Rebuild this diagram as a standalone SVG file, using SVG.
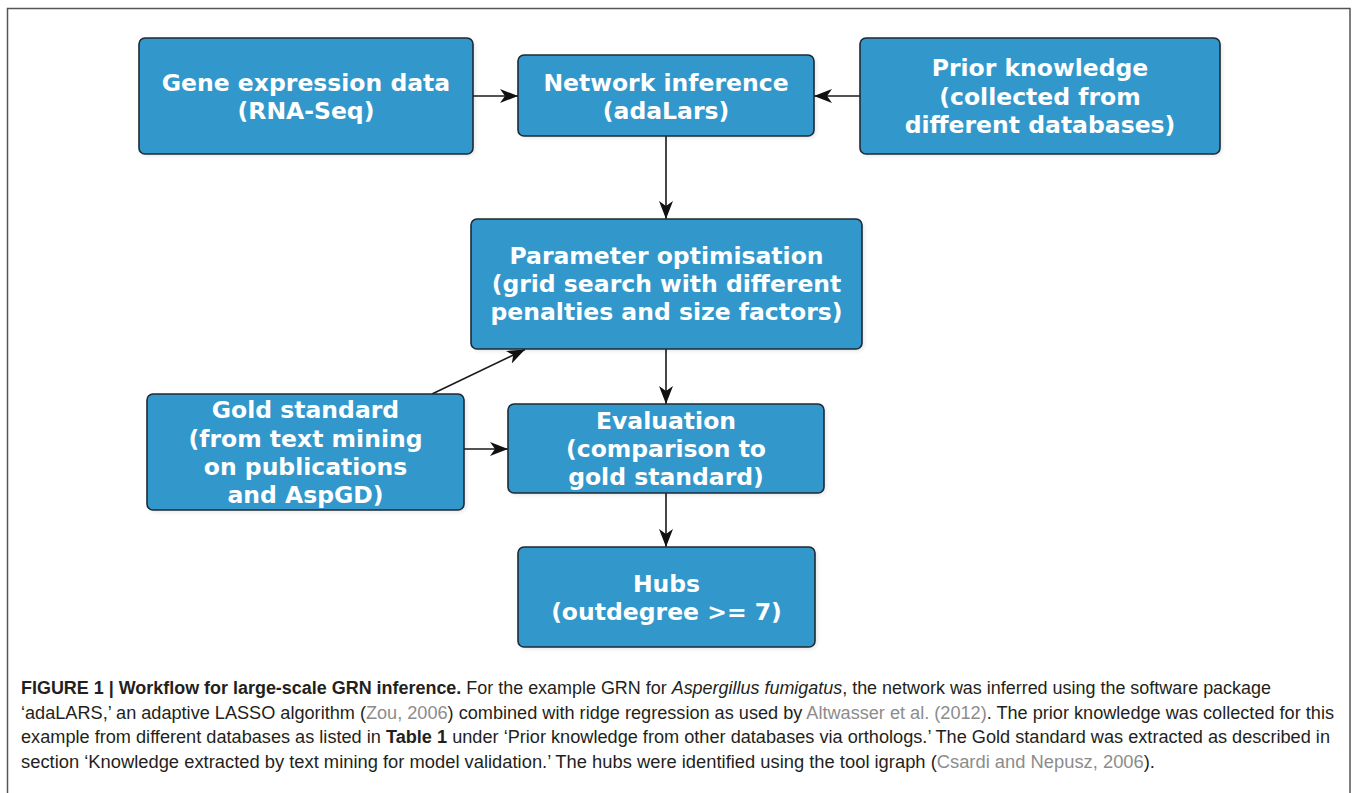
<svg xmlns="http://www.w3.org/2000/svg" width="1357" height="793" viewBox="0 0 1357 793">
<defs>
<style>
.box{fill:#3298cc;stroke:#1c2a36;stroke-width:1.6}
.shadow{fill:#000;opacity:0.10}
.lbl{font-family:"DejaVu Sans",sans-serif;font-weight:bold;font-size:23.5px;fill:#ffffff;text-anchor:middle}
.edge{stroke:#1a1a1a;stroke-width:1.6;fill:none;marker-end:url(#arr)}
.cap{font-family:"Liberation Sans",Arial,sans-serif;font-size:17.5px;fill:#231f20}
.b{font-weight:bold}
.i{font-style:italic}
.lk{fill:#8c8c8c}
</style>
<marker id="arr" markerUnits="userSpaceOnUse" markerWidth="20" markerHeight="16" refX="18" refY="7" orient="auto">
<path d="M0,0 L18,7 L0,14 L5,7 Z" fill="#111"/>
</marker>
<filter id="blur" x="-10%" y="-10%" width="120%" height="120%"><feGaussianBlur stdDeviation="2"/></filter>
</defs>
<rect x="0" y="0" width="1357" height="793" fill="#ffffff"/>
<rect x="7.5" y="8.5" width="1342.5" height="820" fill="none" stroke="#555" stroke-width="1.5"/>

<g id="connectors">
<line class="edge" x1="473" y1="96" x2="518" y2="96"/>
<line class="edge" x1="860" y1="96" x2="814" y2="96"/>
<line class="edge" x1="666" y1="136" x2="666" y2="219"/>
<line class="edge" x1="666" y1="349" x2="666" y2="404"/>
<line class="edge" x1="432" y1="394" x2="525" y2="349.5"/>
<line class="edge" x1="464" y1="449" x2="508" y2="449"/>
<line class="edge" x1="666" y1="493" x2="666" y2="547"/>
</g>

<g id="gene">
<rect class="shadow" x="141" y="40" width="334" height="116" rx="6" filter="url(#blur)"/>
<rect class="box" x="139" y="38" width="334" height="116" rx="6"/>
<text class="lbl" x="306" y="90.5">Gene expression data</text>
<text class="lbl" x="306" y="119">(RNA-Seq)</text>
</g>

<g id="network">
<rect class="shadow" x="520" y="57" width="296" height="81" rx="6" filter="url(#blur)"/>
<rect class="box" x="518" y="55" width="296" height="81" rx="6"/>
<text class="lbl" x="666" y="90.5">Network inference</text>
<text class="lbl" x="666" y="119">(adaLars)</text>
</g>

<g id="prior">
<rect class="shadow" x="862" y="40" width="360" height="116" rx="6" filter="url(#blur)"/>
<rect class="box" x="860" y="38" width="360" height="116" rx="6"/>
<text class="lbl" x="1040" y="76">Prior knowledge</text>
<text class="lbl" x="1040" y="104.5">(collected from</text>
<text class="lbl" x="1040" y="133">different databases)</text>
</g>

<g id="parameter">
<rect class="shadow" x="473" y="221" width="391" height="130" rx="6" filter="url(#blur)"/>
<rect class="box" x="471" y="219" width="391" height="130" rx="6"/>
<text class="lbl" x="666.5" y="263.5">Parameter optimisation</text>
<text class="lbl" x="666.5" y="291.8">(grid search with different</text>
<text class="lbl" x="666.5" y="320">penalties and size factors)</text>
</g>

<g id="gold">
<rect class="shadow" x="149" y="396" width="317" height="116" rx="6" filter="url(#blur)"/>
<rect class="box" x="147" y="394" width="317" height="116" rx="6"/>
<text class="lbl" x="305.5" y="418">Gold standard</text>
<text class="lbl" x="305.5" y="446.5">(from text mining</text>
<text class="lbl" x="305.5" y="474.5">on publications</text>
<text class="lbl" x="305.5" y="502.5">and AspGD)</text>
</g>

<g id="evaluation">
<rect class="shadow" x="510" y="406" width="316" height="89" rx="6" filter="url(#blur)"/>
<rect class="box" x="508" y="404" width="316" height="89" rx="6"/>
<text class="lbl" x="666" y="428.5">Evaluation</text>
<text class="lbl" x="666" y="456.8">(comparison to</text>
<text class="lbl" x="666" y="485">gold standard)</text>
</g>

<g id="hubs">
<rect class="shadow" x="520" y="549" width="297" height="100" rx="6" filter="url(#blur)"/>
<rect class="box" x="518" y="547" width="297" height="100" rx="6"/>
<text class="lbl" x="666.5" y="592">Hubs</text>
<text class="lbl" x="666.5" y="620">(outdegree &gt;= 7)</text>
</g>

<g id="caption">
<text class="cap" x="21" y="694" textLength="1250" lengthAdjust="spacingAndGlyphs"><tspan class="b">FIGURE 1 | Workflow for large-scale GRN inference.</tspan> For the example GRN for <tspan class="i">Aspergillus fumigatus</tspan>, the network was inferred using the software package</text>
<text class="cap" x="21" y="718.5" textLength="1313" lengthAdjust="spacingAndGlyphs">‘adaLARS,’ an adaptive LASSO algorithm (<tspan class="lk">Zou, 2006</tspan>) combined with ridge regression as used by <tspan class="lk">Altwasser et al. (2012)</tspan>. The prior knowledge was collected for this</text>
<text class="cap" x="21" y="743" textLength="1309" lengthAdjust="spacingAndGlyphs">example from different databases as listed in <tspan class="b">Table 1</tspan> under ‘Prior knowledge from other databases via orthologs.’ The Gold standard was extracted as described in</text>
<text class="cap" x="21" y="767.5" textLength="1134" lengthAdjust="spacingAndGlyphs">section ‘Knowledge extracted by text mining for model validation.’ The hubs were identified using the tool igraph (<tspan class="lk">Csardi and Nepusz, 2006</tspan>).</text>
</g>
</svg>
